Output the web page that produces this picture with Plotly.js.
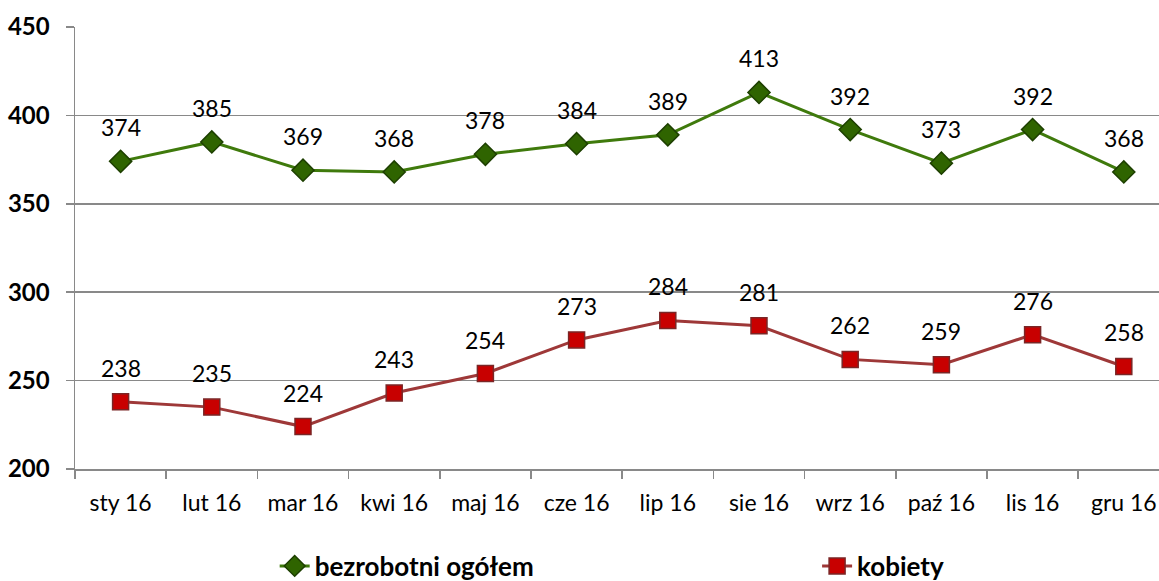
<!DOCTYPE html>
<html>
<head>
<meta charset="utf-8">
<script src="https://cdn.plot.ly/plotly-3.0.1.min.js"></script>
<style>html,body{margin:0;padding:0;background:#fff;}#chart{width:1159px;height:581px;}</style>
</head>
<body>
<div id="chart"></div>
<script>
const categories = ["sty 16","lut 16","mar 16","kwi 16","maj 16","cze 16","lip 16","sie 16","wrz 16","paź 16","lis 16","gru 16"];
const ogolem = [374,385,369,368,378,384,389,413,392,373,392,368];
const kobiety = [238,235,224,243,254,273,284,281,262,259,276,258];
const seriesNames = ["bezrobotni ogółem","kobiety"];
const yTicks = [200,250,300,350,400,450];

const FONT = "Lato, 'Open Sans', sans-serif";

const traces = [
  {
    x: categories, y: ogolem, name: seriesNames[0], type: "scatter", mode: "lines+markers",
    line: {color: "#3f7a0c", width: 3},
    marker: {symbol: "diamond", size: 17, color: "#2f6400", line: {color: "#1d3f00", width: 1.5}},
    legend: "legend", cliponaxis: false
  },
  {
    x: categories, y: kobiety, name: seriesNames[1], type: "scatter", mode: "lines+markers",
    line: {color: "#9e3838", width: 3},
    marker: {symbol: "square", size: 16, color: "#c80000", line: {color: "#7a2626", width: 1.5}},
    legend: "legend2", cliponaxis: false
  }
];

const annotations = [];
[ogolem, kobiety].forEach(arr => {
  arr.forEach((v, i) => {
    annotations.push({x: categories[i], y: v, text: String(v), showarrow: false,
      yshift: 34, font: {family: FONT, size: 23, color: "#000"}});
  });
});

const legendFont = {family: FONT, size: 26, color: "#000", weight: "bold"};

const layout = {
  width: 1159, height: 581,
  margin: {l: 75, r: 0, t: 27, b: 112},
  paper_bgcolor: "#fff", plot_bgcolor: "#fff",
  font: {family: FONT, color: "#000"},
  showlegend: true,
  xaxis: {
    type: "category", range: [-0.5, 11.386],
    showgrid: false, showline: true, linecolor: "#898989", linewidth: 1.5,
    ticks: "outside", tickson: "boundaries", ticklen: 8, tickcolor: "#898989", tickwidth: 1.5,
    tickfont: {family: FONT, size: 23, color: "#000"}, ticklabelstandoff: 13,
    zeroline: false, fixedrange: true, automargin: false
  },
  yaxis: {
    range: [200, 450], tickvals: yTicks, ticktext: yTicks.map(String),
    showgrid: true, gridcolor: "#898989", gridwidth: 1.5,
    showline: true, linecolor: "#898989", linewidth: 1.5,
    ticks: "outside", ticklen: 8, tickcolor: "#898989", tickwidth: 1.5,
    tickfont: {family: FONT, size: 24, color: "#000", weight: "bold"}, ticklabelstandoff: 11,
    zeroline: false, fixedrange: true, automargin: false
  },
  legend: {
    orientation: "h", xref: "container", yref: "container",
    x: 0.237, xanchor: "left", y: 0.0258, yanchor: "middle",
    font: legendFont, bgcolor: "rgba(0,0,0,0)"
  },
  legend2: {
    orientation: "h", xref: "container", yref: "container",
    x: 0.705, xanchor: "left", y: 0.0258, yanchor: "middle",
    font: legendFont, bgcolor: "rgba(0,0,0,0)"
  },
  annotations: annotations
};

Plotly.newPlot("chart", traces, layout, {displayModeBar: false, staticPlot: true});
</script>
</body>
</html>
